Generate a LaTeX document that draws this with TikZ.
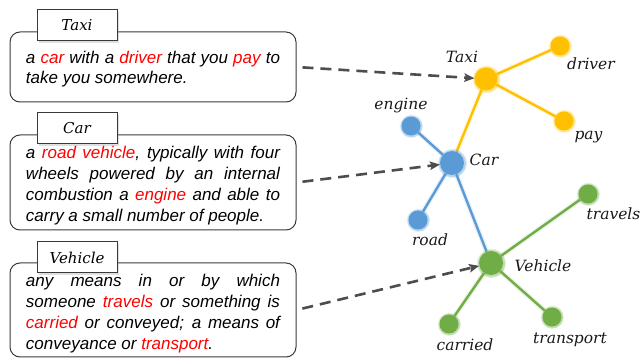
\documentclass[tikz,border=0pt]{standalone}
\usepackage{fontspec}
\newfontfamily\defont{Liberation Sans}
\newfontfamily\lblfont{DejaVu Serif}
\usetikzlibrary{arrows.meta,shadows,backgrounds}
\definecolor{ycol}{HTML}{FFC000}
\definecolor{bcol}{HTML}{5B9BD5}
\definecolor{gcol}{HTML}{70AD47}
\definecolor{acol}{HTML}{4D4D4D}
\definecolor{bordercol}{HTML}{3A3A3A}
\newcommand{\hlw}[1]{\textcolor{red}{#1}}
\hyphenpenalty=10000
\exhyphenpenalty=10000
\tikzset{
  defbox/.style={draw=bordercol, line width=1pt, rounded corners=10pt,
    minimum width=286pt, text width=254pt, align=justify, inner sep=0pt,
    font=\defont\itshape\fontsize{17}{20.9}\selectfont},
  titlebox/.style={draw=bordercol, line width=1pt, fill=white, minimum width=80pt,
    minimum height=31pt, inner sep=0pt, font=\lblfont\itshape\fontsize{15}{18}\selectfont,
    drop shadow={opacity=0.25, shadow xshift=2pt, shadow yshift=-2pt}},
  lbl/.style={font=\lblfont\itshape\fontsize{15.5}{18}\selectfont, inner sep=0pt, text=black!90},
  dot/.style={circle, inner sep=0pt, minimum size=19pt, fill=#1, draw=none,
    circular glow={fill=#1, opacity=0.45}},
  bigdot/.style={dot=#1, minimum size=24pt},
  link/.style={draw=#1, line width=2.4pt, preaction={draw=#1!40, line width=5pt, opacity=0.35}},
  dasharrow/.style={draw=acol, line width=2.6pt, dash pattern=on 11pt off 7pt,
    -{Stealth[length=10pt, width=8.5pt, inset=2pt]}, shorten <=6pt}
}
\begin{document}
\begin{tikzpicture}[x=1pt, y=-1pt]
\useasboundingbox (0,0) rectangle (641,358);
% definition boxes
\node[defbox, minimum height=70pt] (d1) at (153,67)
  {\rule{0pt}{16.5pt}a \hlw{car} with a \hlw{driver} that you \hlw{pay} to\linebreak take you somewhere.};
\node[defbox, minimum height=95pt] (d2) at (153,182.5)
  {\rule{0pt}{19pt}a \hlw{road vehicle}, typically with four\linebreak wheels powered by an internal\linebreak combustion a \hlw{engine} and able to\linebreak carry a small number of people.};
\node[defbox, minimum height=94pt] (d3) at (153,310)
  {\rule{0pt}{20pt}any means in or by which\linebreak someone \hlw{travels} or something is\linebreak \hlw{carried} or conveyed; a means of\linebreak conveyance or \hlw{transport}.};
\node[titlebox] (t1) at (77,25.5) {Taxi};
\node[titlebox] (t2) at (77,128.5) {Car};
\node[titlebox] (t3) at (77,257.5) {Vehicle};
% graph nodes
\node[dot=ycol, minimum size=23pt] (taxi) at (486,79) {};
\node[dot=ycol] (driver) at (560,46) {};
\node[dot=ycol] (pay) at (564,121) {};
\node[bigdot=bcol] (car) at (452,163) {};
\node[dot=bcol] (engine) at (411,126) {};
\node[dot=bcol] (road) at (418,220) {};
\node[bigdot=gcol] (vehicle) at (491,263) {};
\node[dot=gcol] (travels) at (588,194) {};
\node[dot=gcol] (carried) at (449,324) {};
\node[dot=gcol] (transport) at (552,317) {};
% labels
\node[lbl] (lTaxi) at (462,57) {Taxi};
\node[lbl] (lDriver) at (591,63.5) {driver};
\node[lbl] (lPay) at (588.5,137.5) {pay};
\node[lbl] (lEngine) at (401,105.5) {engine};
\node[lbl] (lCar) at (484,160) {Car};
\node[lbl] (lRoad) at (430,240) {road};
\node[lbl] (lVehicle) at (543,265.5) {Vehicle};
\node[lbl] (lTravels) at (613.5,214) {travels};
\node[lbl] (lCarried) at (465,345) {carried};
\node[lbl] (lTransport) at (570,340) {transport};
% edges
\begin{scope}[on background layer]
\draw[link=ycol] (taxi) -- (driver);
\draw[link=ycol] (taxi) -- (pay);
\draw[link=ycol] (taxi) -- (car);
\draw[link=bcol] (car) -- (engine);
\draw[link=bcol] (car) -- (road);
\draw[link=bcol] (car) -- (vehicle);
\draw[link=gcol] (vehicle) -- (travels);
\draw[link=gcol] (vehicle) -- (carried);
\draw[link=gcol] (vehicle) -- (transport);
\end{scope}
% dashed arrows
\draw[dasharrow] (d1.east) -- (taxi);
\draw[dasharrow] (d2.east) -- (car);
\draw[dasharrow] (d3.east) -- (vehicle);
\end{tikzpicture}
\end{document}
